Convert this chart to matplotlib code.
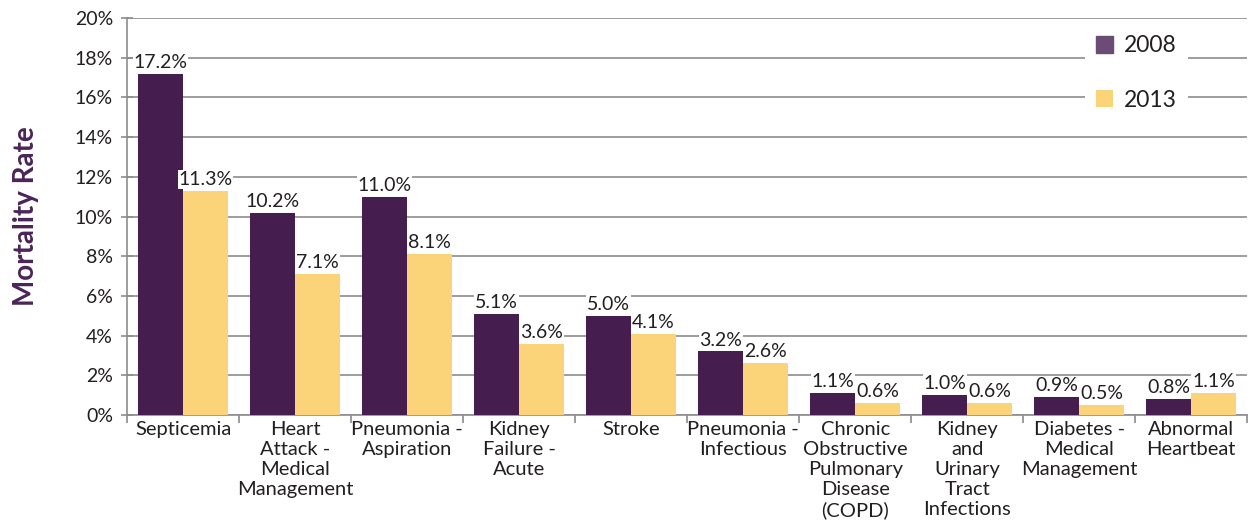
import numpy as np
import matplotlib.pyplot as plt
from matplotlib.ticker import FuncFormatter, MultipleLocator

categories = ['Septicemia', 'Heart\nAttack -\nMedical\nManagement', 'Pneumonia -\nAspiration',
              'Kidney\nFailure -\nAcute', 'Stroke', 'Pneumonia -\nInfectious',
              'Chronic\nObstructive\nPulmonary\nDisease\n(COPD)', 'Kidney\nand\nUrinary\nTract\nInfections',
              'Diabetes -\nMedical\nManagement', 'Abnormal\nHeartbeat']
rate_2008 = [17.2, 10.2, 11.0, 5.1, 5.0, 3.2, 1.1, 1.0, 0.9, 0.8]
rate_2013 = [11.3, 7.1, 8.1, 3.6, 4.1, 2.6, 0.6, 0.6, 0.5, 1.1]
years = ['2008', '2013']


def main():
	plt.rcParams['font.family'] = ['Lato', 'DejaVu Sans']
	purple = '#451e4f'
	yellow = '#fbd47a'
	gray = '#8c8c8c'
	txt = '#231f20'

	fig = plt.figure(figsize=(12.51, 5.27), dpi=100)
	ax = fig.add_axes([0.1015, 0.2125, 0.8955, 0.7533])

	x = np.arange(len(categories))
	w = 0.4
	b1 = ax.bar(x - w / 2, rate_2008, w, color=purple, label=years[0], zorder=3)
	b2 = ax.bar(x + w / 2, rate_2013, w, color=yellow, label=years[1], zorder=3)

	for bars in (b1, b2):
		for r in bars:
			v = r.get_height()
			ax.text(r.get_x() + r.get_width() / 2, v + 0.15, f'{v:.1f}%', ha='center', va='bottom',
					fontsize=14, color=txt, zorder=4,
					bbox=dict(facecolor='white', edgecolor='none', pad=0.5))

	ax.set_xlim(-0.5, len(categories) - 0.5)
	ax.set_ylim(0, 20)
	ax.yaxis.set_major_locator(MultipleLocator(2))
	ax.yaxis.set_major_formatter(FuncFormatter(lambda v, p: f'{v:.0f}%'))
	ax.grid(axis='y', color=gray, lw=1.2, zorder=0)
	ax.set_axisbelow(True)

	ax.set_xticks(x)
	ax.set_xticklabels(categories, fontsize=14.5, color=txt, linespacing=1.22, va='top')
	ax.set_xticks(np.arange(len(categories) + 1) - 0.5, minor=True)
	ax.tick_params(axis='x', which='major', length=0, pad=4)
	ax.tick_params(axis='x', which='minor', length=6, color=gray, width=1.2)
	ax.tick_params(axis='y', direction='inout', length=8, color=gray, width=1.2,
				   labelsize=14, labelcolor=txt, pad=6)

	for s in ('top', 'right'):
		ax.spines[s].set_visible(False)
	for s in ('left', 'bottom'):
		ax.spines[s].set_color(gray)
		ax.spines[s].set_linewidth(1.2)

	ax.set_ylabel('Mortality Rate', fontsize=20, fontweight='bold', color='#4b2458', labelpad=26)

	leg = ax.legend(loc='upper right', bbox_to_anchor=(0.947, 0.985), frameon=True, fontsize=16.5,
					handlelength=0.75, handleheight=0.75, handletextpad=0.45, labelspacing=1.45,
					borderpad=0.5, borderaxespad=0, fancybox=False)
	leg.get_frame().set_facecolor('white')
	leg.get_frame().set_edgecolor('none')
	leg.get_frame().set_alpha(1)
	leg.legend_handles[0].set_color('#6b4c75')
	for t in leg.get_texts():
		t.set_color(txt)

	fig.savefig('out.png', dpi=100)


if __name__ == '__main__':
	main()
